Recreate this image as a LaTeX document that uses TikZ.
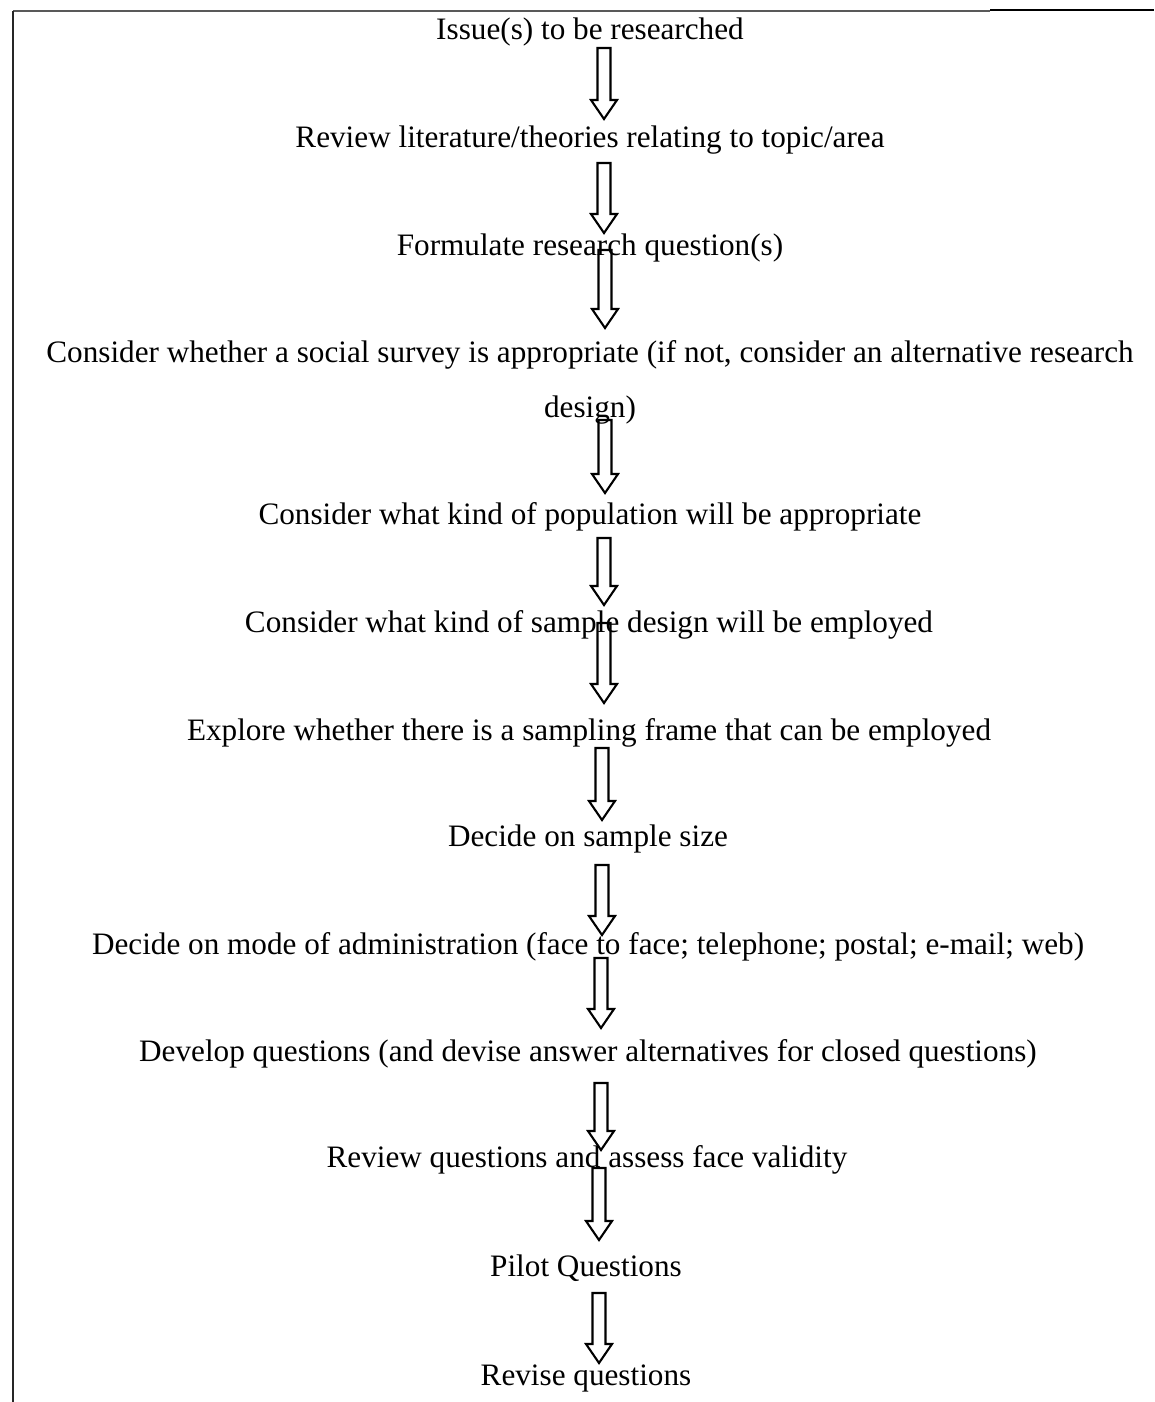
\documentclass[tikz,border=0pt]{standalone}
\usepackage{fontspec}
\setmainfont{Liberation Serif}
\usetikzlibrary{calc}
\tikzset{
  steptext/.style={anchor=base, inner sep=0pt, font=\fontsize{31.2}{36}\selectfont},
  blockarrow/.style={draw=black, line width=2.1pt, line join=miter},
  framebar/.style={line width=1.6pt, draw=black!85}
}
\newcommand\hollowarrow[2]{%
  \draw[blockarrow] let \p1=(#1), \p2=(#2) in
    (\x1-6.5pt,\y1) -- (\x1+6.5pt,\y1) -- (\x1+6.5pt,\y2+19pt) --
    (\x1+13pt,\y2+19pt) -- (\x1,\y2) -- (\x1-13pt,\y2+19pt) --
    (\x1-6.5pt,\y2+19pt) -- cycle;}
\begin{document}
\begin{tikzpicture}[x=1pt,y=-1pt]
\useasboundingbox (0,0) rectangle (1154,1402);
% frame
\draw[framebar, draw=black!65, line width=1.3pt] (13,11) -- (990,11);
\draw[line width=2.4pt] (990,10) -- (1154,10);
\draw[framebar] (13,11) -- (13,1402);
% texts
\node[steptext] (t1)  at (590,40)   {Issue(s) to be researched};
\node[steptext] (t2)  at (590,147)  {Review literature/theories relating to topic/area};
\node[steptext] (t3)  at (590,255)  {Formulate research question(s)};
\node[steptext] (t4)  at (590,362)  {Consider whether a social survey is appropriate (if not, consider an alternative research};
\node[steptext] (t4b) at (590,417)  {design)};
\node[steptext] (t5)  at (590,524)  {Consider what kind of population will be appropriate};
\node[steptext] (t6)  at (589,632)  {Consider what kind of sample design will be employed};
\node[steptext] (t7)  at (589,740)  {Explore whether there is a sampling frame that can be employed};
\node[steptext] (t8)  at (588,846)  {Decide on sample size};
\node[steptext] (t9)  at (588,954)  {Decide on mode of administration (face to face; telephone; postal; e-mail; web)};
\node[steptext] (t10) at (588,1061) {Develop questions (and devise answer alternatives for closed questions)};
\node[steptext] (t11) at (587,1167) {Review questions and assess face validity};
\node[steptext] (t12) at (586,1276) {Pilot Questions};
\node[steptext] (t13) at (586,1385) {Revise questions};
% arrow end points
\coordinate (a1s) at (604,48);   \coordinate (a1e) at (604,119);
\coordinate (a2s) at (604,163);  \coordinate (a2e) at (604,233);
\coordinate (a3s) at (605,250);  \coordinate (a3e) at (605,328);
\coordinate (a4s) at (605,420);  \coordinate (a4e) at (605,493);
\coordinate (a5s) at (604,538);  \coordinate (a5e) at (604,605);
\coordinate (a6s) at (604,623);  \coordinate (a6e) at (604,703);
\coordinate (a7s) at (602,748);  \coordinate (a7e) at (602,820);
\coordinate (a8s) at (602,865);  \coordinate (a8e) at (602,935);
\coordinate (a9s) at (601,958);  \coordinate (a9e) at (601,1028);
\coordinate (a10s) at (601,1083); \coordinate (a10e) at (601,1150);
\coordinate (a11s) at (599,1168); \coordinate (a11e) at (599,1240);
\coordinate (a12s) at (599,1293); \coordinate (a12e) at (599,1363);
\hollowarrow{a1s}{a1e}
\hollowarrow{a2s}{a2e}
\hollowarrow{a3s}{a3e}
\hollowarrow{a4s}{a4e}
\hollowarrow{a5s}{a5e}
\hollowarrow{a6s}{a6e}
\hollowarrow{a7s}{a7e}
\hollowarrow{a8s}{a8e}
\hollowarrow{a9s}{a9e}
\hollowarrow{a10s}{a10e}
\hollowarrow{a11s}{a11e}
\hollowarrow{a12s}{a12e}
\end{tikzpicture}
\end{document}
